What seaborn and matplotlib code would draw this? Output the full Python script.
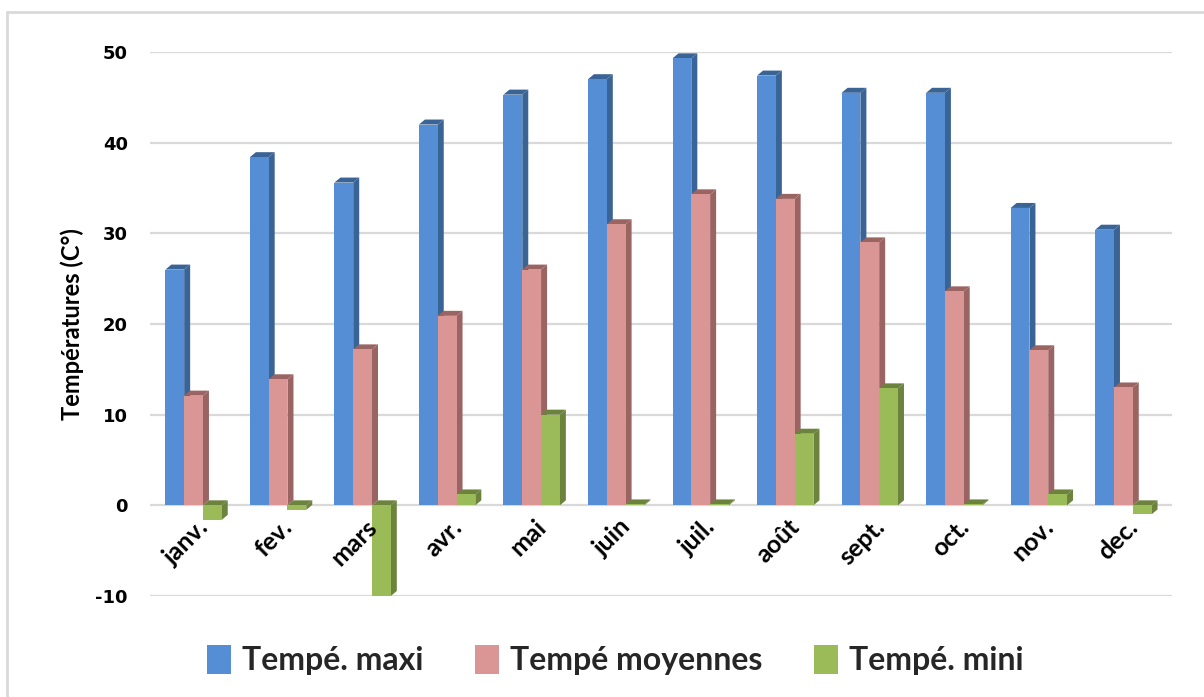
"""
Monthly temperatures (max / mean / min) as Excel-style grouped bars.
"""

import numpy as np
import pandas as pd
import matplotlib
matplotlib.use("Agg")
import matplotlib.pyplot as plt
from matplotlib.patches import Polygon, Patch
import seaborn as sns

months = ["janv.", "fev.", "mars", "avr.", "mai", "juin",
          "juil.", "août", "sept.", "oct.", "nov.", "dec."]
series_names = ["Tempé. maxi", "Tempé moyennes", "Tempé. mini"]
temp_max = [26.0, 38.4, 35.6, 42.0, 45.3, 47.0, 49.3, 47.4, 45.5, 45.5, 32.8, 30.4]
temp_mean = [12.1, 13.9, 17.2, 20.9, 26.0, 31.0, 34.3, 33.8, 29.0, 23.6, 17.1, 13.0]
temp_min = [-1.6, -0.5, -10.0, 1.2, 10.0, 0.1, 0.1, 7.9, 12.9, 0.1, 1.2, -1.0]
y_ticks = [-10, 0, 10, 20, 30, 40, 50]

colors = ["#558ED5", "#D99694", "#9BBB59"]
side_colors = ["#3B6496", "#9A6462", "#6B833D"]

df = pd.DataFrame({
    "month": months * 3,
    "series": np.repeat(series_names, len(months)),
    "value": temp_max + temp_mean + temp_min,
})

sns.set_style("white")
plt.rcParams["axes.unicode_minus"] = False
fig = plt.figure(figsize=(12.04, 6.97), dpi=100)
ax = fig.add_axes([0.1246, 0.1449, 0.8488, 0.7805])

sns.barplot(data=df, x="month", y="value", hue="series", order=months,
            hue_order=series_names, palette=colors, width=0.667, gap=0,
            saturation=1, errorbar=None, legend=False, ax=ax, zorder=3,
            linewidth=0, edgecolor="none")

ax.set_xlim(-0.515, 11.575)
ax.set_ylim(-10, 50)

# fake 3D depth: darker side face and top cap on every bar
px_per_x = ax.get_window_extent().width / (11.575 + 0.515)
px_per_y = ax.get_window_extent().height / 60
dx = 6 / px_per_x
dy = 5 / px_per_y
for i, bar in enumerate(ax.patches):
    k = i // len(months)
    x0, w = bar.get_x(), bar.get_width()
    y0, h = bar.get_y(), bar.get_height()
    if abs(h) < 1e-9:
        continue
    top = max(y0, y0 + h)
    bot = min(y0, y0 + h)
    side = Polygon([(x0 + w, bot), (x0 + w + dx, bot + dy),
                    (x0 + w + dx, top + dy), (x0 + w, top)],
                   closed=True, facecolor=side_colors[k], edgecolor="none", zorder=2.9)
    cap = Polygon([(x0, top), (x0 + dx, top + dy),
                   (x0 + w + dx, top + dy), (x0 + w, top)],
                  closed=True, facecolor=side_colors[k], edgecolor="none", zorder=2.9)
    ax.add_patch(side)
    ax.add_patch(cap)

# gridlines
ax.set_yticks(y_ticks)
ax.yaxis.grid(True, color="#D9D9D9", linewidth=1.6, zorder=0)
ax.set_axisbelow(True)
for s in ax.spines.values():
    s.set_visible(False)
ax.tick_params(axis="y", length=0, pad=16, labelcolor="black")
for lab in ax.get_yticklabels():
    lab.set_fontfamily("DejaVu Sans")
    lab.set_fontweight("bold")
    lab.set_fontsize(13)

# month labels sit just under the zero line
ax.set_xticks([])
ax.set_xlabel("")
for i, m in enumerate(months):
    ax.annotate(m, xy=(i, 0), xytext=(2, -7), textcoords="offset points",
                rotation=45, rotation_mode="anchor", ha="right", va="top",
                fontsize=18, fontweight="bold", family="Lato", color="black")

ax.set_ylabel("Températures (C°)", fontsize=17, family="Lato",
              fontweight="bold", labelpad=8, color="black")

handles = [Patch(facecolor=c, edgecolor="none") for c in colors]
fig.legend(handles, series_names, loc="center", bbox_to_anchor=(0.511, 0.053),
           ncol=3, frameon=False, handlelength=0.75, handleheight=1.05,
           handletextpad=0.35, columnspacing=1.6,
           prop={"family": "Lato", "weight": "bold", "size": 23})

# outer frame (top and left visible)
fig.add_artist(plt.Line2D([7 / 1204, 1.0], [1 - 12 / 697, 1 - 12 / 697],
                          transform=fig.transFigure, color="#D9D9D9", linewidth=2))
fig.add_artist(plt.Line2D([7 / 1204, 7 / 1204], [0.0, 1 - 12 / 697],
                          transform=fig.transFigure, color="#D9D9D9", linewidth=2))

fig.savefig("out.png", dpi=100, facecolor="white")
